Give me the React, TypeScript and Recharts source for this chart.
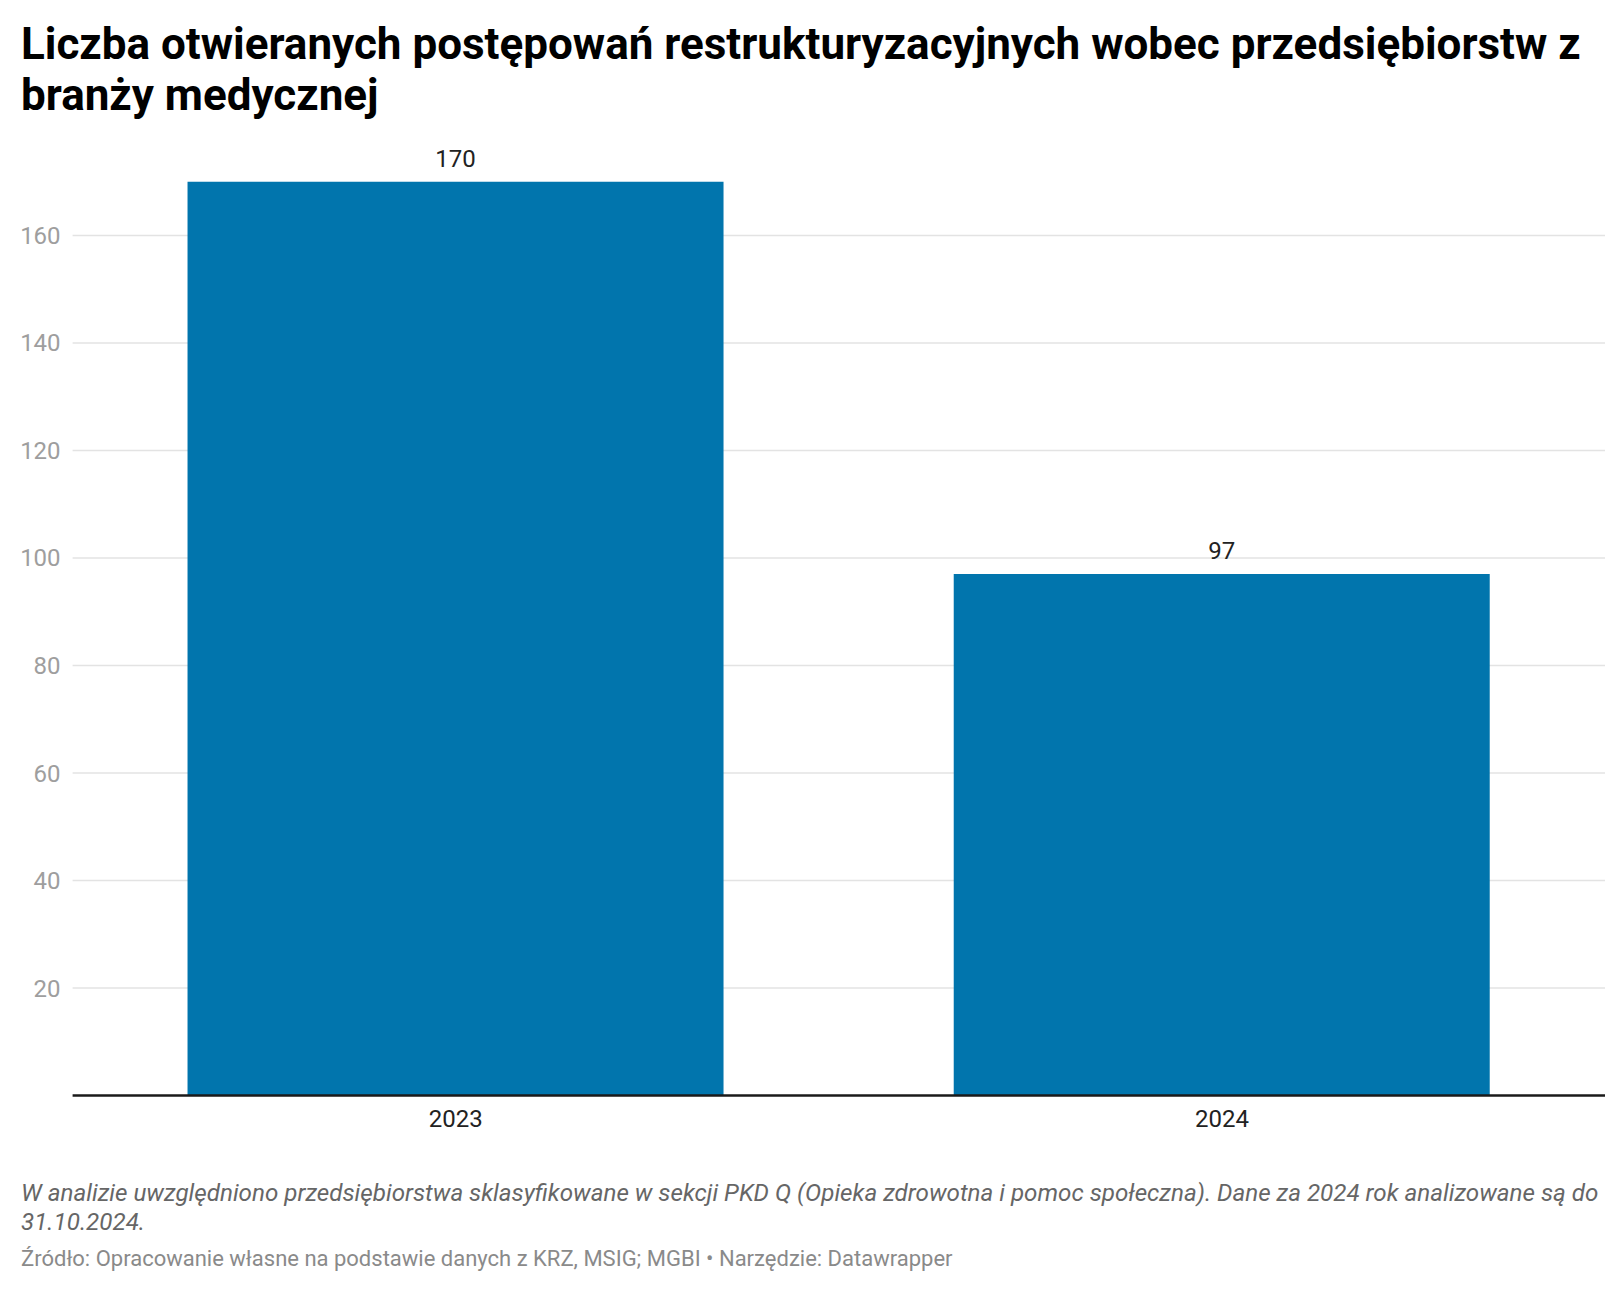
import { BarChart, Bar, XAxis, YAxis, CartesianGrid, LabelList } from 'recharts';

const years = ['2023', '2024'];
const cases = [170, 97];
const yTicks = [20, 40, 60, 80, 100, 120, 140, 160];

const chartData = years.map((year, i) => ({ year, cases: cases[i] }));

const font = 'Roboto, "Noto Sans", sans-serif';

const App = () => {
  return (
    <div style={{ position: 'fixed', left: 0, top: 0, width: 1624, height: 1292, background: '#fff', fontFamily: font }}>
      <div
        style={{
          position: 'absolute',
          left: 21,
          top: 19,
          width: 1600,
          fontSize: 44,
          lineHeight: '50.7px',
          fontWeight: 700,
          color: '#000',
          whiteSpace: 'nowrap',
        }}
      >
        Liczba otwieranych postępowań restrukturyzacyjnych wobec przedsiębiorstw z<br />
        branży medycznej
      </div>

      <div style={{ position: 'absolute', left: 0, top: 0 }}>
        <BarChart
          width={1624}
          height={1160}
          data={chartData}
          margin={{ top: 181.7, right: 19, left: 0, bottom: 24.5 }}
          barCategoryGap="15%"
        >
          <CartesianGrid vertical={false} syncWithTicks stroke="#e3e3e3" strokeWidth={1.6} />
          <XAxis
            dataKey="year"
            height={40}
            tickLine={false}
            tickSize={0}
            tickMargin={14.5}
            axisLine={{ stroke: '#1a1a1a', strokeWidth: 2.3 }}
            tick={{ fill: '#222', fontSize: 24, fontFamily: font }}
          />
          <YAxis
            width={72.6}
            domain={[0, 170]}
            ticks={yTicks}
            axisLine={false}
            tickLine={false}
            tickSize={0}
            tickMargin={12}
            tick={{ fill: '#9e9e9e', fontSize: 24, fontFamily: font }}
          />
          <Bar dataKey="cases" fill="#0175ad" isAnimationActive={false}>
            <LabelList
              dataKey="cases"
              position="top"
              offset={15}
              fill="#222"
              fontSize={24}
              fontFamily={font}
            />
          </Bar>
        </BarChart>
      </div>

      <div
        style={{
          position: 'absolute',
          left: 21,
          top: 1179.4,
          width: 1600,
          fontSize: 24.2,
          lineHeight: '28.3px',
          fontStyle: 'italic',
          color: '#666',
          whiteSpace: 'nowrap',
        }}
      >
        W analizie uwzględniono przedsiębiorstwa sklasyfikowane w sekcji PKD Q (Opieka zdrowotna i pomoc społeczna). Dane za 2024 rok analizowane są do
        <br />
        31.10.2024.
      </div>

      <div
        style={{
          position: 'absolute',
          left: 21,
          top: 1245.2,
          fontSize: 22,
          lineHeight: '28px',
          color: '#8a8a8a',
          whiteSpace: 'nowrap',
        }}
      >
        Źródło: Opracowanie własne na podstawie danych z KRZ, MSIG; MGBI • Narzędzie: Datawrapper
      </div>
    </div>
  );
};

export default App;
